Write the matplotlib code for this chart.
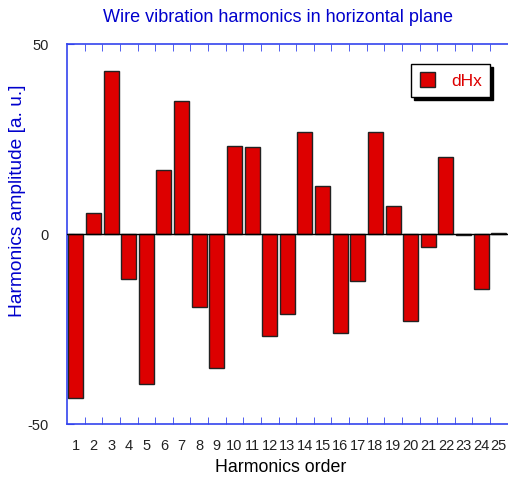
import matplotlib
matplotlib.use("Agg")
import matplotlib.pyplot as plt
import numpy as np

# harmonics order and amplitudes
orders = list(range(1, 26))
dHx = [-43.2, 5.5, 42.9, -11.8, -39.5, 16.8, 35.0, -19.2, -35.3, 23.2,
       22.9, -26.8, -21.0, 26.8, 12.6, -26.0, -12.4, 26.8, 7.4, -22.9,
       -3.4, 20.3, -0.3, -14.5, 0.3]
yticks = [-50, 0, 50]

plt.rcParams['font.family'] = ['Liberation Sans', 'DejaVu Sans']
plt.rcParams['axes.unicode_minus'] = False

fig = plt.figure(figsize=(5.08, 4.8), dpi=100)
ax = fig.add_axes([67 / 508, 56 / 480, 1 - 67 / 508, 380 / 480])

ax.bar(orders, dHx, width=0.85, color="#dd0000", edgecolor="#222222",
       linewidth=1, label="dHx", zorder=2)
ax.axhline(0, color="black", lw=1, zorder=3)

ax.set_xlim(0.5, 25.52)
ax.set_ylim(-50, 50)

blue = "#0000cc"
for side in ["left", "top", "bottom"]:
    ax.spines[side].set_color("#3344ee")
    ax.spines[side].set_linewidth(1.2)
ax.spines["right"].set_visible(False)

# labels at centers, tick marks between bars
ax.set_xticks(orders)
ax.set_xticklabels([str(o) for o in orders])
ax.set_xticks(np.arange(1.5, 25, 1), minor=True)
ax.tick_params(axis="x", which="major", length=0, pad=11, labelsize=10.5,
               labelcolor="#222222")
ax.tick_params(axis="x", which="minor", direction="in", length=5,
               color="#3344ee", top=True, bottom=True)
ax.set_yticks(yticks)
ax.tick_params(axis="y", direction="in", length=5, color="#3344ee",
               pad=13, labelsize=10.5, labelcolor="#222222")

leg = ax.legend(loc="upper right", bbox_to_anchor=(0.96, 0.948),
                fancybox=False, shadow={"color": "black", "alpha": 1},
                edgecolor="black", framealpha=1, fontsize=12.5,
                handlelength=0.9, handleheight=0.9, borderpad=0.5,
                handletextpad=0.9, borderaxespad=0)
for t in leg.get_texts():
    t.set_color("#dd0000")

fig.text(278 / 508, 1 - 18 / 480, "Wire vibration harmonics in horizontal plane",
         ha="center", va="center", color=blue, fontsize=13)
fig.text(281 / 508, 1 - 468 / 480, "Harmonics order", ha="center", va="center",
         color="black", fontsize=12.8)
fig.text(18 / 508, 1 - 201 / 480, "Harmonics amplitude [a. u.]", ha="center",
         va="center", rotation=90, color=blue, fontsize=13.8)

fig.savefig("out.png", dpi=100)
